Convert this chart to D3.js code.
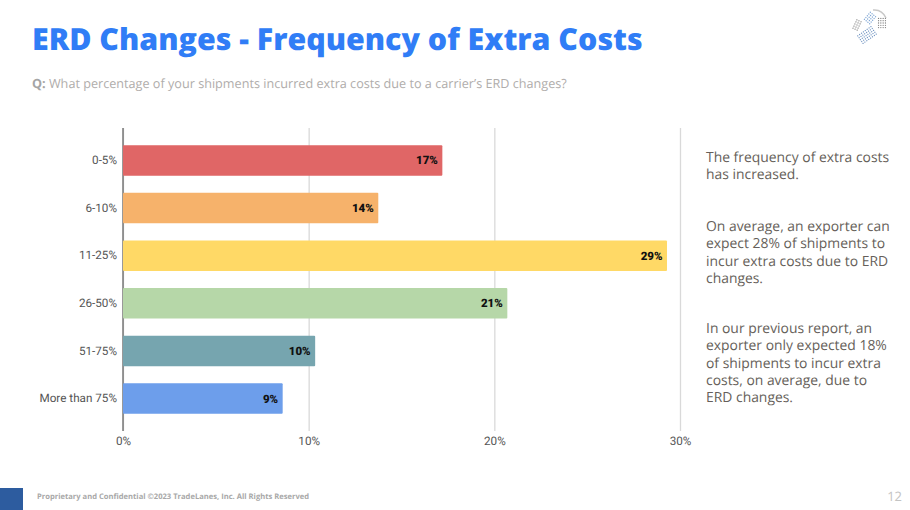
<!DOCTYPE html>
<html>
<head>
<meta charset="utf-8">
<script src="https://cdn.jsdelivr.net/npm/d3@7"></script>
<style>
  html, body { margin: 0; padding: 0; background: #fff; }
  svg { display: block; text-rendering: geometricPrecision; }
</style>
</head>
<body>
<div id="chart"></div>
<script>
var width = 910;
var height = 510;

// chart data
var categories = ["0-5%", "6-10%", "11-25%", "26-50%", "51-75%", "More than 75%"];
var values = [17.2, 13.75, 29.3, 20.7, 10.35, 8.6];
var valueLabels = ["17%", "14%", "29%", "21%", "10%", "9%"];
var barColors = ["#e06666", "#f6b26b", "#ffd966", "#b6d7a8", "#76a5af", "#6d9eeb"];
var xTicks = [0, 10, 20, 30];

var noteLines = [
	["The frequency of extra costs", "has increased."],
	["On average, an exporter can", "expect 28% of shipments to", "incur extra costs due to ERD", "changes."],
	["In our previous report, an", "exporter only expected 18%", "of shipments to incur extra", "costs, on average, due to", "ERD changes."]
];
var noteTops = [162, 231, 333];

var svg = d3.select("#chart").append("svg")
	.attr("width", width)
	.attr("height", height);

// heading
svg.append("text")
	.attr("x", 32).attr("y", 49.5)
	.style("font-family", "'Open Sans'")
	.style("font-weight", 800)
	.style("font-size", "30.35px")
	.style("fill", "#307df6")
	.text("ERD Changes - Frequency of Extra Costs");

var question = svg.append("text")
	.attr("x", 32).attr("y", 87.5)
	.style("font-family", "'Open Sans'")
	.style("font-size", "12.65px")
	.style("fill", "#b0adab");
question.append("tspan").style("font-weight", 700).style("fill", "#a5a5a5").text("Q: ");
question.append("tspan").text("What percentage of your shipments incurred extra costs due to a carrier\u2019s ERD changes?");

// scales
var x = d3.scaleLinear().domain([0, 30]).range([123, 680]);
var y = d3.scaleBand().domain(categories).range([128, 431]).padding(0.36);

// x axis + gridlines
var xAxis = d3.axisBottom(x)
	.tickValues(xTicks)
	.tickFormat(d => d + "%")
	.tickSize(303)
	.tickPadding(6);

var xG = svg.append("g")
	.attr("transform", "translate(0,128)")
	.call(xAxis);
xG.select(".domain").remove();
xG.selectAll("line").attr("stroke", "#d9d9d9").attr("stroke-width", 1.3);
xG.selectAll("text")
	.style("font-family", "Roboto")
	.style("font-size", "11.7px")
	.style("fill", "#555");

// y axis
var yAxis = d3.axisLeft(y).tickSize(0).tickPadding(6);
var yG = svg.append("g")
	.attr("transform", "translate(123,0)")
	.call(yAxis);
yG.select(".domain").remove();
yG.selectAll("text")
	.style("font-family", "Roboto")
	.style("font-size", "11.7px")
	.style("fill", "#555");

// baseline
svg.append("line")
	.attr("x1", x(0)).attr("x2", x(0))
	.attr("y1", 128).attr("y2", 431)
	.attr("stroke", "#666")
	.attr("stroke-width", 1.3);

// bars
svg.selectAll("rect.bar")
	.data(categories)
	.enter().append("rect")
	.attr("class", "bar")
	.attr("x", x(0))
	.attr("y", d => y(d))
	.attr("width", (d, i) => x(values[i]) - x(0))
	.attr("height", y.bandwidth())
	.attr("rx", 1)
	.attr("fill", (d, i) => barColors[i]);

// labels inside the bar ends
svg.selectAll("text.value")
	.data(categories)
	.enter().append("text")
	.attr("class", "value")
	.attr("x", (d, i) => x(values[i]) - 4.5)
	.attr("y", d => y(d) + y.bandwidth() / 2)
	.attr("dy", "0.35em")
	.attr("text-anchor", "end")
	.style("font-family", "Roboto")
	.style("font-weight", 900)
	.style("font-size", "11.5px")
	.style("fill", "#111")
	.text((d, i) => valueLabels[i]);

// commentary on the right
noteLines.forEach(function (lines, n) {
	svg.append("g").selectAll("text")
		.data(lines)
		.enter().append("text")
		.attr("x", 706)
		.attr("y", (d, i) => noteTops[n] + i * 17.3)
		.style("font-family", "'Open Sans'")
		.style("font-size", "13.9px")
		.style("fill", "#665f5a")
		.text(d => d);
});

// footer
svg.append("rect")
	.attr("x", 0).attr("y", 488)
	.attr("width", 23).attr("height", 22)
	.attr("fill", "#2d5c9f");

svg.append("text")
	.attr("x", 37).attr("y", 499)
	.style("font-family", "'Open Sans'")
	.style("font-weight", 700)
	.style("font-size", "7.6px")
	.style("fill", "#a8a8a8")
	.text("Proprietary and Confidential \u00a92023 TradeLanes, Inc. All Rights Reserved");

svg.append("text")
	.attr("x", 902).attr("y", 501)
	.attr("text-anchor", "end")
	.style("font-family", "'Open Sans'")
	.style("font-size", "13px")
	.style("fill", "#c4c4c4")
	.text("12");

// logo, rough dot clusters
var logo = svg.append("g").attr("transform", "translate(871,27)");
function dotCluster(cx, cy, cols, rows, rot, color) {
	var g = logo.append("g").attr("transform", `translate(${cx},${cy}) rotate(${rot})`);
	d3.range(rows).forEach(function (r) {
		d3.range(cols).forEach(function (c) {
			g.append("circle")
				.attr("cx", (c - (cols - 1) / 2) * 2.3)
				.attr("cy", (r - (rows - 1) / 2) * 2.3)
				.attr("r", 0.65)
				.attr("fill", color);
		});
	});
}
dotCluster(-4, 8, 8, 5, -35, "#6f93c0");
dotCluster(-1, -9, 5, 4, -50, "#7fa6d4");
dotCluster(11, -4, 4, 5, 0, "#808080");
dotCluster(-14, -2, 3, 5, 25, "#808080");
logo.append("path")
	.attr("d", "M2,-17 Q11,-18 15,-9")
	.attr("fill", "none")
	.attr("stroke", "#c8c8c8")
	.attr("stroke-width", 1.5);
</script>
</body>
</html>
